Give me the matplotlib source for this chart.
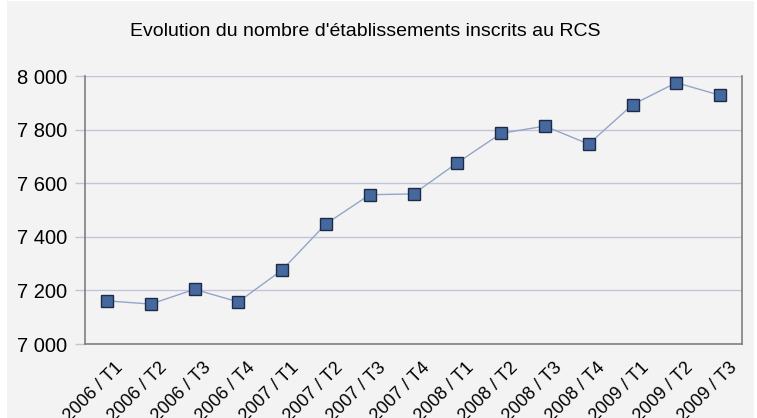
import numpy as np
import matplotlib.pyplot as plt
import matplotlib.transforms as mtransforms
from matplotlib.patches import Rectangle
from matplotlib.ticker import FuncFormatter

plt.rcParams['font.family'] = ['Liberation Sans', 'DejaVu Sans']

# trimestres et nombre d'établissements
periodes = ['2006 / T1', '2006 / T2', '2006 / T3', '2006 / T4',
            '2007 / T1', '2007 / T2', '2007 / T3', '2007 / T4',
            '2008 / T1', '2008 / T2', '2008 / T3', '2008 / T4',
            '2009 / T1', '2009 / T2', '2009 / T3']
etablissements = [7161, 7149, 7204, 7157, 7276, 7448, 7557, 7560,
                  7676, 7786, 7813, 7746, 7893, 7975, 7928]
y_ticks = [7000, 7200, 7400, 7600, 7800, 8000]

W, H = 757, 418
fig = plt.figure(figsize=(W / 100, H / 100), dpi=100, facecolor='white')
fig.patches.append(Rectangle((7 / W, 0), (754 - 7) / W, 1 - 1 / H,
                             transform=fig.transFigure, facecolor='#f3f3f3',
                             edgecolor='none', zorder=-10))

ax = fig.add_axes([85 / W, (H - 344) / H, (742 - 85) / W, (344 - 76) / H])
ax.set_facecolor('#f3f3f3')

x = np.arange(len(periodes))
ax.plot(x, etablissements, color='#93a6c8', linewidth=1.0, marker='s',
        markersize=9, markerfacecolor='#45689f', markeredgecolor='#1e2b45',
        markeredgewidth=1.0, zorder=3, clip_on=False)

ax.set_xlim(-0.5, len(periodes) - 0.5)
ax.set_ylim(7000, 8000)
ax.set_yticks(y_ticks)
ax.yaxis.set_major_formatter(FuncFormatter(lambda v, p: f'{int(v):,}'.replace(',', ' ')))
ax.grid(axis='y', color='#c3c3da', linewidth=1.0)
ax.set_axisbelow(True)

ax.set_xticks(x)
ax.set_xticklabels(periodes, rotation=45, ha='right', va='top',
                   rotation_mode='anchor', fontsize=13)
ax.tick_params(axis='x', length=0, pad=0)
decal = mtransforms.ScaledTranslation(8 / 100, -15 / 100, fig.dpi_scale_trans)
for lab in ax.get_xticklabels():
    lab.set_transform(lab.get_transform() + decal)
ax.tick_params(axis='y', length=7, color='#c3c3da', width=1.0,
               labelsize=14.5, pad=6)

for s in ['left', 'bottom', 'right']:
    ax.spines[s].set_color('#7f7f7f')
    ax.spines[s].set_linewidth(1.2)
ax.spines['top'].set_visible(False)

fig.text(365 / W, 1 - 31 / H, "Evolution du nombre d'établissements inscrits au RCS",
         ha='center', va='center', fontsize=14)

fig.savefig('out.png', dpi=100, facecolor=fig.get_facecolor())
